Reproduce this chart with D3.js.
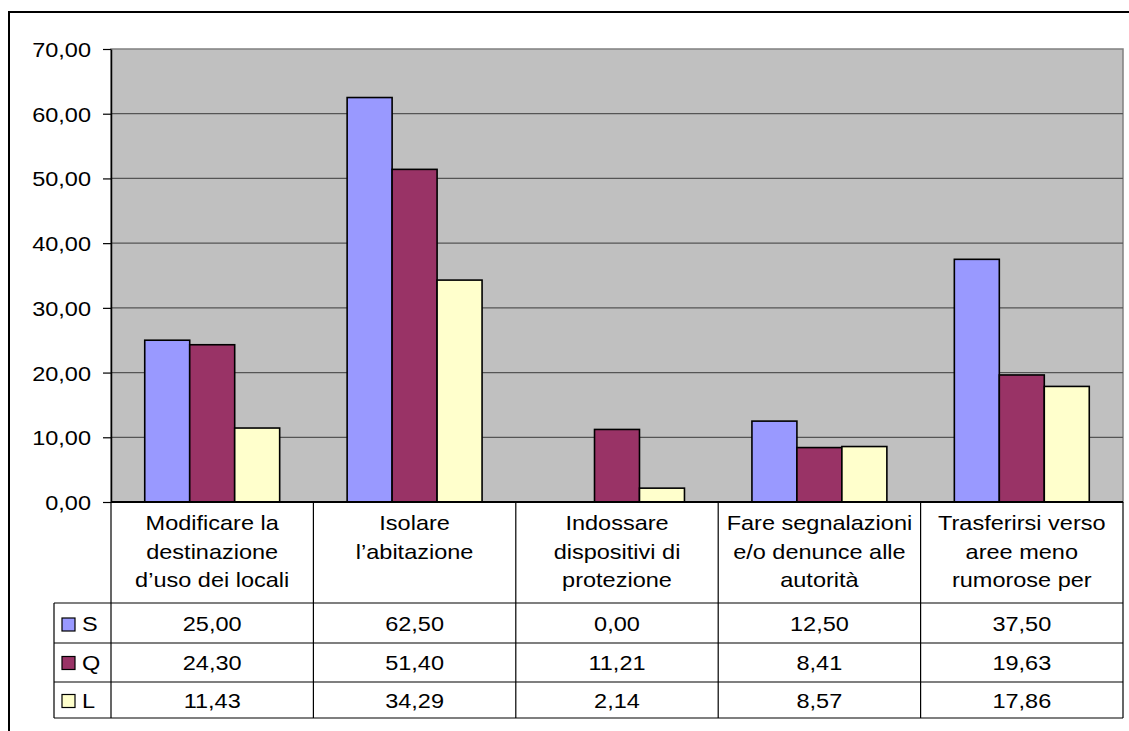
<!DOCTYPE html>
<html>
<head>
<meta charset="utf-8">
<script src="https://cdn.jsdelivr.net/npm/d3@7"></script>
<style>
  html, body { margin: 0; padding: 0; background: #fff; }
  svg { display: block; }
  text { font-family: "Liberation Sans", Arial, sans-serif; fill: #000; }
</style>
</head>
<body>
<svg id="chart" width="1129" height="731"></svg>
<script>
// Categories (each label split into its wrapped lines)
const categories = [
  "Modificare la destinazione d’uso dei locali",
  "Isolare l’abitazione",
  "Indossare dispositivi di protezione",
  "Fare segnalazioni e/o denunce alle autorità",
  "Trasferirsi verso aree meno rumorose per"
];
const categoryLines = [
  ["Modificare la", "destinazione", "d’uso dei locali"],
  ["Isolare", "l’abitazione"],
  ["Indossare", "dispositivi di", "protezione"],
  ["Fare segnalazioni", "e/o denunce alle", "autorità"],
  ["Trasferirsi verso", "aree meno", "rumorose per"]
];
const seriesNames = ["S", "Q", "L"];
const seriesColors = ["#9999FF", "#993366", "#FFFFCC"];
const valuesS = [25.00, 62.50, 0.00, 12.50, 37.50];
const valuesQ = [24.30, 51.40, 11.21, 8.41, 19.63];
const valuesL = [11.43, 34.29, 2.14, 8.57, 17.86];
const yTicks = [0, 10, 20, 30, 40, 50, 60, 70];

const seriesValues = [valuesS, valuesQ, valuesL];

const itLocale = d3.formatLocale({ decimal: ",", thousands: ".", grouping: [3], currency: ["€", ""] });
const fmt = itLocale.format(".2f");

const svg = d3.select("#chart");
const plot = { left: 111, right: 1123, top: 49, bottom: 502 };
const tableLeft = 54;
const rowLines = [603, 643, 682, 718];
const stretch = 1.12;
const fontSize = 21;

const x0 = d3.scaleBand().domain(categories).range([plot.left, plot.right]);
const x1 = d3.scaleBand().domain(seriesNames).range([0, x0.bandwidth()]).paddingInner(0).paddingOuter(0.75);
const y = d3.scaleLinear().domain([0, 70]).range([plot.bottom, plot.top]);

// Outer chart frame
svg.append("path")
  .attr("d", `M9,731 L9,12 L1129,12`)
  .attr("fill", "none").attr("stroke", "#000").attr("stroke-width", 2);

// Plot area background
svg.append("rect")
  .attr("x", plot.left).attr("y", plot.top)
  .attr("width", plot.right - plot.left).attr("height", plot.bottom - plot.top)
  .attr("fill", "#C0C0C0").attr("stroke", "#808080").attr("stroke-width", 1.5);

// Gridlines
svg.append("g").selectAll("line").data(yTicks.filter(d => d > 0 && d < 70)).join("line")
  .attr("x1", plot.left).attr("x2", plot.right)
  .attr("y1", d => y(d)).attr("y2", d => y(d))
  .attr("stroke", "#555").attr("stroke-width", 1.2);

// Bars
const groups = svg.append("g").selectAll("g").data(categories).join("g")
  .attr("transform", d => `translate(${x0(d)},0)`);
groups.selectAll("rect")
  .data((c, i) => seriesNames.map((s, k) => ({ s, k, v: seriesValues[k][i] })).filter(d => d.v > 0))
  .join("rect")
  .attr("x", d => x1(d.s))
  .attr("width", x1.bandwidth())
  .attr("y", d => y(d.v))
  .attr("height", d => y(0) - y(d.v))
  .attr("fill", d => seriesColors[d.k])
  .attr("stroke", "#000").attr("stroke-width", 1.6);

// Y axis
const yAxis = d3.axisLeft(y).tickValues(yTicks).tickSize(8).tickSizeOuter(0).tickFormat(d => fmt(d));
const ya = svg.append("g").attr("transform", `translate(${plot.left},0)`).call(yAxis);
ya.select(".domain").attr("stroke", "#000").attr("stroke-width", 1.5);
ya.selectAll(".tick line").attr("stroke", "#000").attr("stroke-width", 1.2);
ya.selectAll(".tick text")
  .attr("font-size", fontSize).attr("font-family", "Liberation Sans, Arial, sans-serif")
  .attr("x", 0).attr("dy", null).attr("dominant-baseline", null)
  .attr("text-anchor", "end")
  .attr("transform", `translate(-20,7.5) scale(${stretch},1)`);

// Data table lines
const tg = svg.append("g").attr("stroke", "#000").attr("stroke-width", 1.2);
rowLines.forEach(ly => {
  tg.append("line").attr("x1", tableLeft).attr("x2", plot.right).attr("y1", ly).attr("y2", ly);
});
tg.append("line").attr("x1", tableLeft).attr("x2", tableLeft).attr("y1", rowLines[0]).attr("y2", rowLines[3]);
const colEdges = categories.map(c => x0(c)).concat([plot.right]);
tg.selectAll("line.col").data(colEdges).join("line").attr("class", "col")
  .attr("x1", d => d).attr("x2", d => d).attr("y1", plot.bottom).attr("y2", rowLines[3]);

// Category axis baseline
svg.append("line").attr("x1", plot.left).attr("x2", plot.right)
  .attr("y1", plot.bottom).attr("y2", plot.bottom).attr("stroke", "#000").attr("stroke-width", 1.8);

// Category labels
const lineBase = [530, 558.5, 587];
categories.forEach((c, i) => {
  const cx = x0(c) + x0.bandwidth() / 2;
  categoryLines[i].forEach((ln, j) => {
    svg.append("text")
      .attr("transform", `translate(${cx},${lineBase[j]}) scale(${stretch},1)`)
      .attr("text-anchor", "middle").attr("font-size", fontSize)
      .text(ln);
  });
});

// Legend keys and values rows
const rowBase = [631, 669.5, 707.5];
seriesNames.forEach((s, k) => {
  svg.append("rect")
    .attr("x", 62).attr("y", rowBase[k] - 13).attr("width", 13).attr("height", 13)
    .attr("fill", seriesColors[k]).attr("stroke", "#000").attr("stroke-width", 1.2);
  svg.append("text")
    .attr("transform", `translate(82,${rowBase[k]}) scale(${stretch},1)`)
    .attr("font-size", fontSize).text(s);
  categories.forEach((c, i) => {
    svg.append("text")
      .attr("transform", `translate(${x0(c) + x0.bandwidth() / 2},${rowBase[k]}) scale(${stretch},1)`)
      .attr("text-anchor", "middle").attr("font-size", fontSize)
      .text(fmt(seriesValues[k][i]));
  });
});
</script>
</body>
</html>
